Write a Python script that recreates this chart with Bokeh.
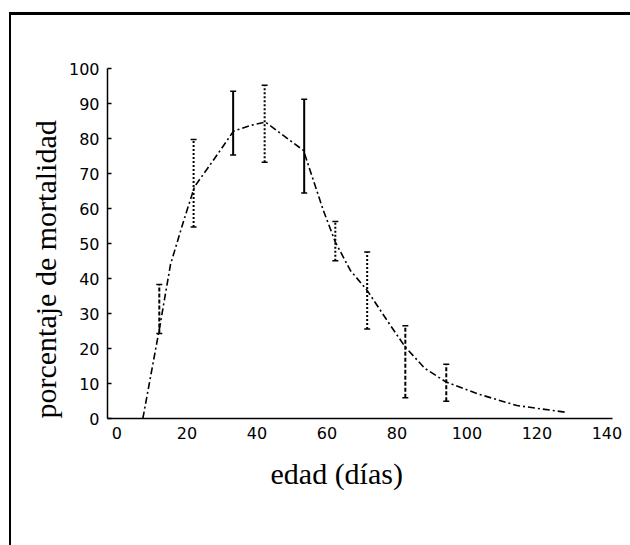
from bokeh.plotting import figure
from bokeh.models import Range1d, FixedTicker, Title, InlineStyleSheet
from bokeh.embed import file_html
from bokeh.resources import INLINE

# ---- data ----
ages = [12.1, 21.9, 33.2, 42.2, 53.5, 62.4, 71.5, 82.4, 94.1]          # edad (días)
mort_mean = [31.3, 67.2, 84.4, 84.2, 77.8, 50.7, 36.6, 16.2, 10.2]     # % mortalidad
mort_sd = [7.0, 12.5, 9.1, 11.0, 13.4, 5.6, 11.0, 10.3, 5.3]

fit_age = [7.4, 12.2, 15.3, 19.1, 22.2, 27.5, 33.3, 38.0, 42.4, 53.3, 59.0,
           62.4, 66.7, 71.5, 77.2, 82.4, 88.0, 94.1, 102.9, 114.3, 128.1]
fit_mort = [0.0, 26.0, 44.0, 56.6, 66.3, 73.7, 82.1, 83.7, 84.7, 76.6, 59.4,
            50.4, 42.3, 36.6, 28.0, 20.4, 14.3, 10.4, 7.1, 3.7, 1.8]

x_ticks = [0, 20, 40, 60, 80, 100, 120, 140]
y_ticks = [0, 10, 20, 30, 40, 50, 60, 70, 80, 90, 100]

x_title = "edad (días)"
y_title = "porcentaje de mortalidad"

# ---- styles (kept apart from the data) ----
bar_dash = ["4 2", "2 2", "solid", "2 2", "solid", "2 2", "2 2", "4 2", "4 2"]

W, H = 630, 545
p = figure(width=W, height=H, output_backend="svg", toolbar_location=None,
           x_range=Range1d(-2.7, 141.6), y_range=Range1d(0, 100),
           min_border_left=107, min_border_right=18,
           min_border_top=68, min_border_bottom=127)
p.background_fill_color = "white"
p.border_fill_color = "white"
p.outline_line_color = None
p.grid.visible = False

# scanned-page frame: top and left edges
p.stylesheets = [InlineStyleSheet(css="""
:host { position: relative; }
:host::after {
  content: ""; position: absolute; left: 9px; top: 12px;
  width: 621px; height: 533px; box-sizing: border-box;
  border-top: 3px solid #000; border-left: 2.5px solid #000;
  pointer-events: none;
}
""")]

TICK_FONT = "DejaVu Sans"
for ax in (p.xaxis[0], p.yaxis[0]):
    ax.axis_line_color = "black"
    ax.axis_line_width = 1.5
    ax.major_tick_line_color = "black"
    ax.major_tick_line_width = 1.5
    ax.minor_tick_line_color = None
    ax.major_label_text_font = TICK_FONT
    ax.major_label_text_font_size = "16px"
    ax.major_label_text_color = "black"
    ax.major_label_standoff = 8

p.xaxis[0].ticker = FixedTicker(ticks=x_ticks)
p.xaxis[0].major_tick_in = 0
p.xaxis[0].major_tick_out = 0
p.yaxis[0].ticker = FixedTicker(ticks=y_ticks)
p.yaxis[0].major_tick_in = 4
p.yaxis[0].major_tick_out = 0

# fitted curve
p.line(fit_age, fit_mort, line_color="black", line_width=1.6, line_dash="7 3 2 3")

# error bars (mean ± sd)
for i in range(len(ages)):
    lo = mort_mean[i] - mort_sd[i]
    hi = mort_mean[i] + mort_sd[i]
    p.segment(x0=[ages[i]], y0=[lo], x1=[ages[i]], y1=[hi],
              line_color="black", line_width=2, line_dash=bar_dash[i])
    p.scatter(x=[ages[i], ages[i]], y=[lo, hi], marker="dash", size=6,
              line_color="black", line_width=1.5)

# axis titles (as side-panel titles so they can be offset like the original)
p.add_layout(Title(text=x_title, align="left", offset=163, standoff=26,
                   text_font="Liberation Serif", text_font_size="30px",
                   text_font_style="normal", text_color="black"), "below")
p.add_layout(Title(text=y_title, align="left", offset=0, standoff=8,
                   text_font="Liberation Serif", text_font_size="30px",
                   text_font_style="normal", text_color="black"), "left")

open("out.html", "w").write(file_html(p, INLINE))
